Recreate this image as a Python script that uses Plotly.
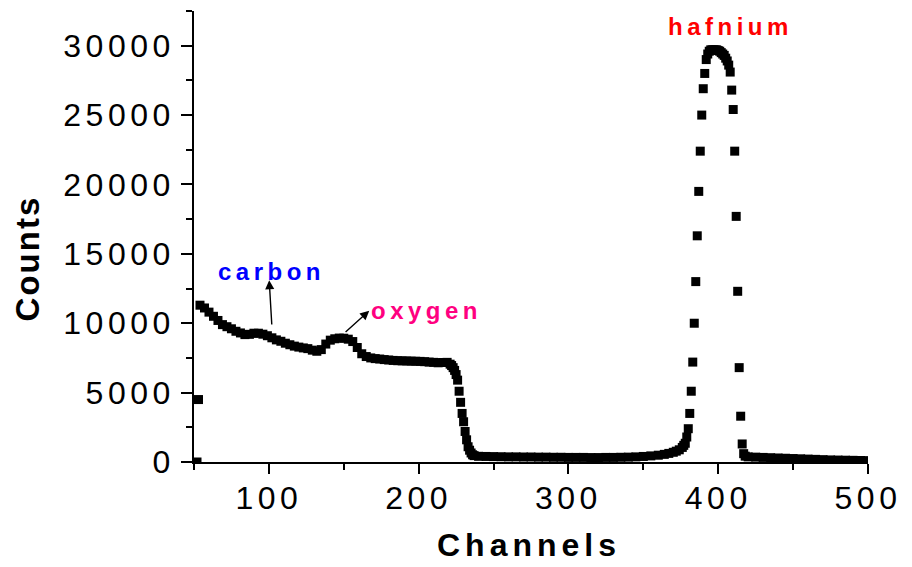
import plotly.graph_objects as go

# ---- data ----
channels = [52, 53, 54, 57, 60, 63, 66, 69, 72, 75, 78, 81, 84, 87, 90, 93, 96, 99,
            102, 105, 108, 111, 114, 117, 120, 123, 126, 129, 132, 135, 138, 141, 144,
            147, 150, 153, 156, 159, 162, 165, 168, 171, 174, 177, 180, 183, 186, 189,
            192, 195, 198, 201, 204, 207, 210, 213, 216, 219, 221, 222, 223, 224, 225,
            226, 227, 228, 229, 230, 231, 232, 233, 234, 235, 236, 237, 240, 245, 250,
            255, 260, 265, 270, 275, 280, 285, 290, 295, 300, 305, 310, 315, 320, 325,
            330, 335, 340, 345, 350, 355, 360, 364, 367, 370, 372, 374, 376, 377, 378,
            379, 380, 381, 382, 383, 384, 385, 386, 387, 388, 389, 390, 391, 392, 393,
            394, 395, 396, 397, 398, 399, 400, 401, 402, 403, 404, 405, 406, 407, 408,
            409, 410, 411, 412, 413, 414, 415, 416, 417, 418, 420, 425, 430, 435, 440,
            445, 450, 455, 460, 465, 470, 475, 480, 485, 490, 495, 500]
counts = [0, 4500, 11300, 11100, 10800, 10500, 10200, 9900, 9750, 9600, 9420, 9300, 9180,
          9200, 9280, 9280, 9210, 9100, 8950, 8800, 8700, 8560, 8450, 8350, 8280, 8220,
          8170, 8060, 7980, 8100, 8500, 8780, 8880, 8930, 8920, 8850, 8680, 8250, 7800,
          7600, 7500, 7450, 7420, 7380, 7350, 7320, 7300, 7290, 7280, 7270, 7260, 7250,
          7230, 7200, 7180, 7150, 7170, 7180, 7050, 6950, 6800, 6600, 6300, 5900, 5100,
          4300, 3500, 2900, 2200, 1600, 1100, 850, 650, 520, 460, 410, 400, 390, 380, 370,
          370, 360, 360, 350, 350, 340, 340, 330, 330, 330, 320, 320, 330, 330, 340, 350,
          370, 400, 440, 490, 550, 620, 700, 780, 880, 1050, 1200, 1350, 1800, 2400, 3500,
          5100, 7200, 10000, 13000, 16300, 19500, 22400, 25000, 26900, 28000, 29000,
          29400, 29600, 29700, 29700, 29700, 29700, 29700, 29650, 29600, 29500, 29400,
          29300, 29100, 28900, 28600, 28100, 26800, 25400, 22400, 17700, 12300, 6800,
          3300, 1300, 600, 420, 370, 350, 330, 310, 290, 270, 250, 230, 210, 190, 170,
          150, 140, 130, 120, 110, 100]

x_ticks = [100, 200, 300, 400, 500]
y_ticks = [0, 5000, 10000, 15000, 20000, 25000, 30000]

labels = ["carbon", "oxygen", "hafnium"]
label_colors = ["#0000FF", "#FF0080", "#FF0000"]
label_x = [101.5, 205.3, 408.0]
label_y = [13750, 10950, 31350]
arrow_head_x = [100.2, 167.0]
arrow_head_y = [13100, 10900]
arrow_tail_x = [102.0, 150.2]
arrow_tail_y = [9800, 9270]

FONT = "Liberation Sans, Arial, sans-serif"


def spaced(t, px):
    return '<span style="letter-spacing:%spx">%s</span>' % (px, t)


fig = go.Figure()
fig.add_trace(go.Scatter(
    x=channels, y=counts, mode="markers",
    marker=dict(symbol="square", size=9, color="black", line=dict(width=0)),
    cliponaxis=True, showlegend=False, hoverinfo="x+y"))

fig.update_layout(
    width=912, height=567,
    margin=dict(l=194, r=37, t=11, b=105),
    paper_bgcolor="white", plot_bgcolor="white",
    font=dict(family=FONT, color="black"),
    showlegend=False,
)

fig.update_xaxes(
    range=[50, 500], showgrid=False, zeroline=False,
    showline=True, linecolor="black", linewidth=1.6, mirror=False,
    ticks="outside", ticklen=10, tickwidth=1.6, tickcolor="black",
    tickvals=x_ticks, ticktext=[spaced(str(v), 4.5) for v in x_ticks],
    tickfont=dict(family=FONT, size=32, color="black"),
    minor=dict(tickvals=[50, 150, 250, 350, 450], ticks="outside", ticklen=6,
               tickwidth=1.6, tickcolor="black", showgrid=False),
    ticklabelstandoff=-3,
)
fig.update_yaxes(
    range=[0, 32500], showgrid=False, zeroline=False,
    showline=True, linecolor="black", linewidth=1.6, mirror=False,
    ticks="outside", ticklen=11, tickwidth=1.6, tickcolor="black",
    tickvals=y_ticks, ticktext=[spaced(str(v), 4.5) for v in y_ticks],
    tickfont=dict(family=FONT, size=32, color="black"),
    minor=dict(tickvals=[2500, 7500, 12500, 17500, 22500, 27500, 32500],
               ticks="outside", ticklen=6, tickwidth=1.6, tickcolor="black",
               showgrid=False),
)

# axis titles
fig.add_annotation(text=spaced("<b>Channels</b>", 5), xref="paper", yref="paper",
                   x=0.497, y=-0.183, xanchor="center", yanchor="middle",
                   showarrow=False, font=dict(family=FONT, size=32, color="black"))
fig.add_annotation(text=spaced("<b>Counts</b>", 2), xref="paper", yref="paper",
                   x=-0.2474, y=0.452, xanchor="center", yanchor="middle",
                   textangle=-90, showarrow=False,
                   font=dict(family=FONT, size=33, color="black"))

# element labels
for t, c, lx, ly in zip(labels, label_colors, label_x, label_y):
    fig.add_annotation(text=spaced("<b>%s</b>" % t, 4.5), x=lx, y=ly, xref="x", yref="y",
                       xanchor="center", yanchor="middle", showarrow=False,
                       font=dict(family=FONT, size=24, color=c))

# arrows
for hx, hy, tx, ty in zip(arrow_head_x, arrow_head_y, arrow_tail_x, arrow_tail_y):
    fig.add_annotation(text="", x=hx, y=hy, ax=tx, ay=ty, xref="x", yref="y",
                       axref="x", ayref="y", showarrow=True, arrowhead=2,
                       arrowsize=1.3, arrowwidth=1.4, arrowcolor="black")

fig.write_html("out.html")
